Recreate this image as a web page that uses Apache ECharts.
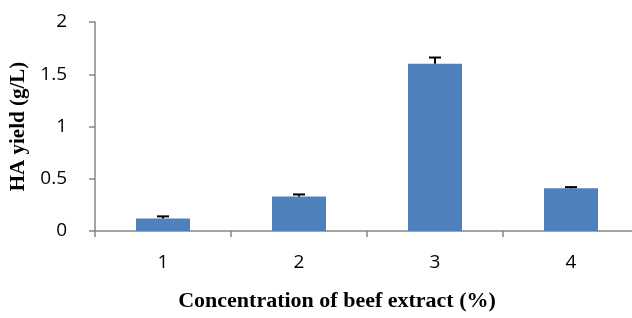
<!DOCTYPE html>
<html>
<head>
<meta charset="utf-8">
<script src="https://cdn.jsdelivr.net/npm/echarts@6/dist/echarts.min.js"></script>
<style>
  html, body { margin: 0; padding: 0; background: #fff; }
  #chart { width: 632px; height: 318px; }
</style>
</head>
<body>
<div id="chart"></div>
<script>
// beef extract concentration vs HA yield
var categories = ['1', '2', '3', '4'];
var yieldValues = [0.12, 0.33, 1.6, 0.41];
var yieldErrors = [0.02, 0.02, 0.06, 0.01];

var errorData = categories.map(function (c, i) {
  return [i, yieldValues[i], yieldErrors[i]];
});

var chart = echarts.init(document.getElementById('chart'));
var option = {
  animation: false,
  grid: { left: 95, width: 544, top: 22, height: 209, outerBoundsMode: 'none' },
  xAxis: {
    type: 'category',
    data: categories,
    name: 'Concentration of beef extract (%)',
    nameLocation: 'middle',
    nameGap: 59,
    nameTextStyle: { fontFamily: 'Liberation Serif', fontWeight: 'bold', fontSize: 22, color: '#000', padding: [0, 60, 0, 0] },
    axisLine: { lineStyle: { color: '#868686', width: 1.5 } },
    axisTick: { show: true, length: 6, lineStyle: { color: '#868686', width: 1.5 } },
    axisLabel: { fontFamily: 'Open Sans', fontSize: 19, color: '#000', margin: 22 }
  },
  yAxis: {
    type: 'value',
    min: 0,
    max: 2,
    interval: 0.5,
    name: 'HA yield (g/L)',
    nameLocation: 'middle',
    nameGap: 58,
    nameTextStyle: { fontFamily: 'Liberation Serif', fontWeight: 'bold', fontSize: 21, color: '#000' },
    axisLine: { show: true, lineStyle: { color: '#868686', width: 1.5 } },
    axisTick: { show: true, length: 6, lineStyle: { color: '#868686', width: 1.5 } },
    splitLine: { show: false },
    axisLabel: { fontFamily: 'Open Sans', fontSize: 19, color: '#000', margin: 28 }
  },
  series: [
    {
      type: 'bar',
      data: yieldValues,
      barWidth: 54,
      itemStyle: { color: '#4F81BD' }
    },
    {
      type: 'custom',
      data: errorData,
      z: 10,
      renderItem: function (params, api) {
        var i = api.value(0);
        var top = api.coord([i, api.value(1) + api.value(2)]);
        var base = api.coord([i, api.value(1)]);
        var style = { stroke: '#000', lineWidth: 2 };
        return {
          type: 'group',
          children: [
            { type: 'line', shape: { x1: base[0], y1: base[1], x2: top[0], y2: top[1] }, style: style },
            { type: 'line', shape: { x1: top[0] - 6, y1: top[1], x2: top[0] + 6, y2: top[1] }, style: style }
          ]
        };
      }
    }
  ]
};
chart.setOption(option);
</script>
</body>
</html>
